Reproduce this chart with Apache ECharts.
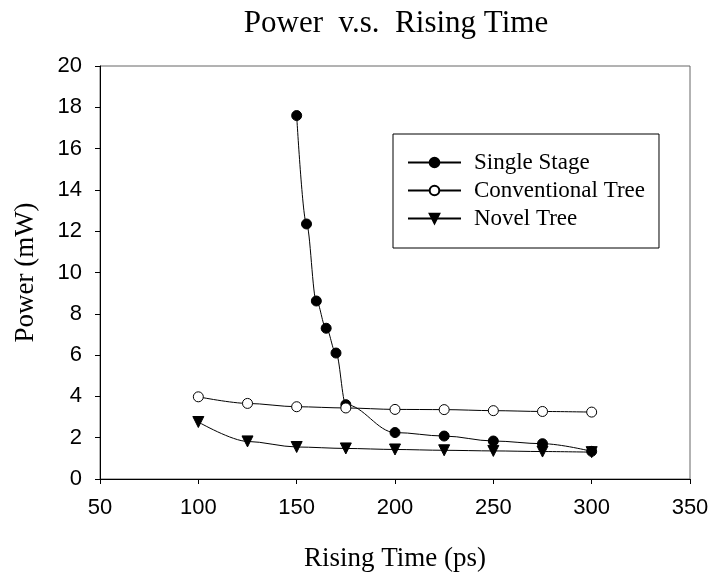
<!DOCTYPE html>
<html>
<head>
<meta charset="utf-8">
<script src="https://cdn.jsdelivr.net/npm/echarts@6/dist/echarts.min.js"></script>
<style>html,body{margin:0;padding:0;background:#fff;}#c{width:711px;height:574px;}</style>
</head>
<body>
<div id="c"></div>
<script>
const xSingle = [150, 155, 160, 165, 170, 175, 200, 225, 250, 275, 300];
const ySingle = [17.6, 12.35, 8.62, 7.3, 6.1, 3.6, 2.25, 2.08, 1.84, 1.71, 1.34];
const xTree = [100, 125, 150, 175, 200, 225, 250, 275, 300];
const yConventional = [3.98, 3.66, 3.5, 3.44, 3.37, 3.36, 3.31, 3.27, 3.24];
const yNovel = [2.76, 1.82, 1.55, 1.48, 1.43, 1.39, 1.36, 1.33, 1.3];
const seriesNames = ['Single Stage', 'Conventional Tree', 'Novel Tree'];
const xTicks = [50, 100, 150, 200, 250, 300, 350];
const yTicks = [0, 2, 4, 6, 8, 10, 12, 14, 16, 18, 20];

const pair = (xs, ys) => xs.map((x, i) => [x, ys[i]]);
const serif = 'Liberation Serif';
const sans = 'Liberation Sans';

const chart = echarts.init(document.getElementById('c'), null, {renderer: 'canvas'});
chart.setOption({
  animation: false,
  backgroundColor: '#fff',
  title: {
    text: 'Power  v.s.  Rising Time',
    left: 391, top: 3, textAlign: 'center',
    textStyle: {fontFamily: serif, fontSize: 31, fontWeight: 'normal', color: '#000'}
  },
  legend: {
    orient: 'vertical',
    left: 393, top: 134,
    padding: [17, 14, 18, 14],
    itemGap: 5,
    itemWidth: 53, itemHeight: 12,
    borderColor: '#000', borderWidth: 1,
    data: seriesNames,
    textStyle: {fontFamily: serif, fontSize: 23, color: '#000', padding: [0, 0, 0, 8]}
  },
  grid: {left: 100, right: 21, top: 66, bottom: 95, containLabel: false, outerBoundsMode: 'none',
         show: true, borderColor: '#666', borderWidth: 1, backgroundColor: 'transparent'},
  xAxis: {
    type: 'value', min: xTicks[0], max: xTicks[xTicks.length - 1], interval: 50,
    name: 'Rising Time (ps)', nameLocation: 'middle', nameGap: 66,
    nameTextStyle: {fontFamily: serif, fontSize: 27, color: '#000'},
    axisLine: {show: true, onZero: false, lineStyle: {color: '#000', width: 1}},
    axisTick: {show: true, inside: false, length: 5, lineStyle: {color: '#000'}},
    axisLabel: {fontFamily: sans, fontSize: 22, color: '#000', margin: 18},
    splitLine: {show: false}
  },
  yAxis: {
    type: 'value', min: yTicks[0], max: yTicks[yTicks.length - 1], interval: 2,
    name: 'Power (mW)', nameLocation: 'middle', nameGap: 61,
    nameTextStyle: {fontFamily: serif, fontSize: 27, color: '#000'},
    axisLine: {show: true, onZero: false, lineStyle: {color: '#000', width: 1}},
    axisTick: {show: true, inside: false, length: 5, lineStyle: {color: '#000'}},
    axisLabel: {fontFamily: sans, fontSize: 22, color: '#000', margin: 18},
    splitLine: {show: false}
  },
  series: [
    {
      name: seriesNames[0], type: 'line', data: pair(xSingle, ySingle),
      smooth: 0.35, smoothMonotone: 'x',
      symbol: 'circle', symbolSize: 10,
      lineStyle: {color: '#000', width: 1},
      itemStyle: {color: '#000', borderColor: '#000', borderWidth: 1}, z: 3
    },
    {
      name: seriesNames[1], type: 'line', data: pair(xTree, yConventional),
      smooth: 0.3, smoothMonotone: 'x',
      symbol: 'circle', symbolSize: 10,
      lineStyle: {color: '#000', width: 1},
      itemStyle: {color: '#fff', borderColor: '#000', borderWidth: 1}, z: 4
    },
    {
      name: seriesNames[2], type: 'line', data: pair(xTree, yNovel),
      smooth: 0.3, smoothMonotone: 'x',
      symbol: 'triangle', symbolRotate: 180, symbolSize: 11,
      lineStyle: {color: '#000', width: 1},
      itemStyle: {color: '#000', borderColor: '#000', borderWidth: 1}, z: 3
    }
  ]
});
</script>
</body>
</html>
